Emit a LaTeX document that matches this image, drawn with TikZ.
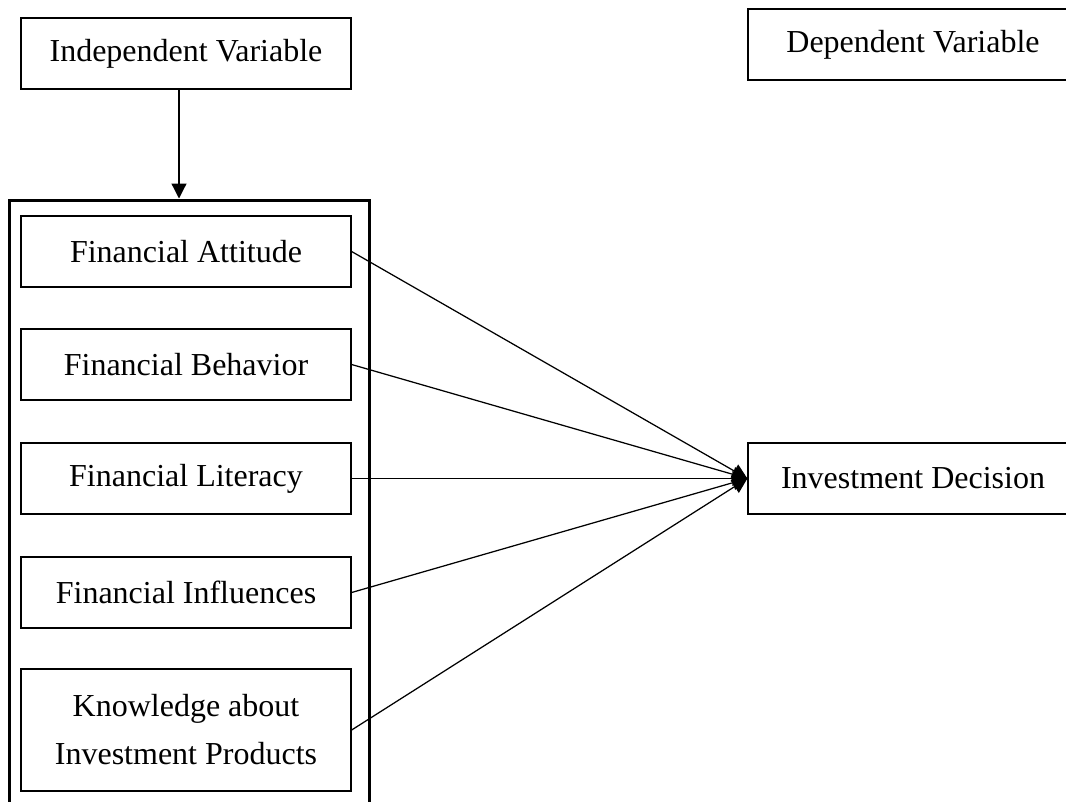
\documentclass[tikz,border=0pt]{standalone}
\usepackage{fontspec}
\setmainfont{Liberation Serif}
\usetikzlibrary{arrows.meta,positioning}
\begin{document}
\begin{tikzpicture}[
    x=0.4pt, y=-0.4pt,
    % Styles
    varbox/.style={% For the variable boxes
        rectangle,
        draw,
        line width=0.5pt,
        minimum width=132pt,
        minimum height=28.4pt,
        inner sep=0pt,
        align=center,
        font=\fontsize{12.8}{19.2}\selectfont,
        },
    groupbox/.style={% For the frame round the independent variables
        rectangle,
        draw,
        line width=1.2pt,
        minimum width=143.6pt,
        minimum height=260pt,
        },
    link/.style={% Arrows with a filled head
        -{Triangle[length=6pt,width=6pt]},
        line width=0.5pt,
        },
    ]

    % Page size and cut-off edges
    \useasboundingbox (0,0) rectangle (1066,801);
    \clip (0,0) rectangle (1066,801);

    % Headings
    \node [varbox] (iv) at (186,53.5) {Independent Variable};
    \node [varbox] (dv) at (913,44.5) {Dependent Variable};

    % Frame
    \node [groupbox] (group) at (189.5,525) {};

    % Independent variables
    \node [varbox] (att)  at (186,251.5) {Financial Attitude};
    \node [varbox] (beh)  at (186,364.5) {Financial Behavior};
    \node [varbox] (lit)  at (186,478.5) {Financial Literacy};
    \node [varbox] (inf)  at (186,592.5) {Financial Influences};
    \node [varbox, minimum height=48.8pt] (know) at (186,730) {Knowledge about\\Investment Products};

    % Dependent variable
    \node [varbox] (dec) at (913,478.5) {Investment Decision};

    % Arrows
    \draw [link] ([xshift=-2.8pt]iv.south) -- ([xshift=-2.8pt]iv.south |- group.north);
    \draw [link] (att.east) -- (dec.west);
    \draw [link] (beh.east) -- (dec.west);
    \draw [link] (lit.east) -- (dec.west);
    \draw [link] (inf.east) -- (dec.west);
    \draw [link] (know.east) -- (dec.west);

\end{tikzpicture}
\end{document}
